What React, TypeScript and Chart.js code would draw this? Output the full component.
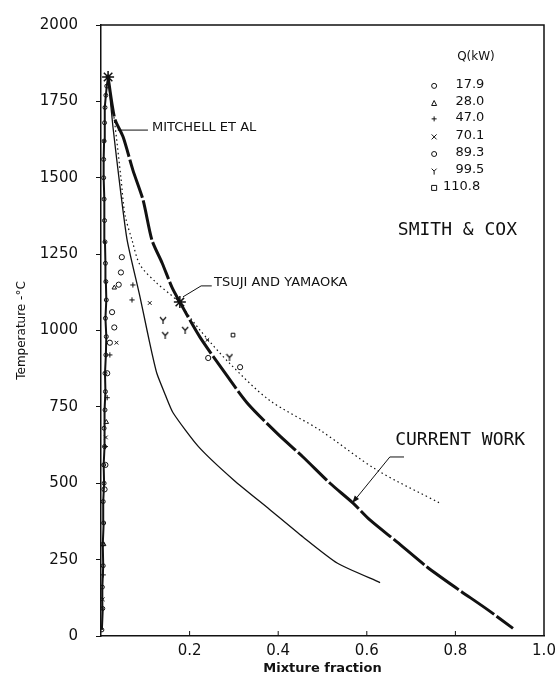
import React, { useEffect, useRef } from "react";
import { Chart, registerables } from "chart.js";

Chart.register(...registerables);

// ---------- data ----------
const xTickValues = [0, 0.2, 0.4, 0.6, 0.8, 1.0];
const yTickValues = [0, 250, 500, 750, 1000, 1250, 1500, 1750, 2000];

// heavy broken line (current work / Mitchell et al)
const currentX = [0.016, 0.025, 0.032, 0.05, 0.072, 0.095, 0.115, 0.138, 0.16, 0.178, 0.223, 0.275, 0.33, 0.4, 0.456, 0.517, 0.569, 0.607, 0.668, 0.736, 0.804, 0.871, 0.93];
const currentT = [1830, 1740, 1689, 1633, 1525, 1427, 1296, 1221, 1142, 1093, 979, 871, 763, 660, 586, 500, 435, 380, 308, 226, 155, 88, 25];

// thin solid line
const thinX = [0.016, 0.027, 0.043, 0.059, 0.088, 0.104, 0.115, 0.126, 0.145, 0.163, 0.22, 0.3, 0.38, 0.456, 0.533, 0.63];
const thinT = [1830, 1666, 1470, 1296, 1110, 1000, 926, 860, 790, 730, 620, 510, 415, 324, 239, 175];

// dotted line
const dottedX = [0.016, 0.03, 0.045, 0.054, 0.07, 0.088, 0.126, 0.17, 0.223, 0.29, 0.38, 0.494, 0.623, 0.765];
const dottedT = [1830, 1690, 1500, 1380, 1296, 1215, 1155, 1100, 1002, 893, 772, 674, 543, 435];

// rising branch near the axis
const risingX = [0.002, 0.004, 0.003, 0.005, 0.004, 0.006, 0.005, 0.007, 0.006, 0.008, 0.007, 0.009, 0.01, 0.009, 0.011, 0.012, 0.01, 0.012, 0.011, 0.01, 0.009, 0.008, 0.007, 0.006, 0.006, 0.007, 0.008, 0.009, 0.011, 0.013, 0.016];
const risingT = [20, 90, 160, 230, 300, 370, 440, 500, 560, 620, 680, 740, 800, 860, 920, 980, 1040, 1100, 1160, 1220, 1290, 1360, 1430, 1500, 1560, 1620, 1680, 1730, 1770, 1800, 1830];

// Smith & Cox measurements by heat release Q (kW)
const qLabels = ["17.9", "28.0", "47.0", "70.1", "89.3", "99.5", "110.8"];
const q179X = [0.008, 0.01, 0.014, 0.02, 0.025];
const q179T = [480, 560, 860, 960, 1060];
const q280X = [0.006, 0.012, 0.03];
const q280T = [300, 700, 1140];
const q470X = [0.005, 0.01, 0.014, 0.02, 0.07, 0.072];
const q470T = [200, 620, 780, 920, 1100, 1149];
const q701X = [0.004, 0.011, 0.035, 0.11, 0.24];
const q701T = [120, 650, 960, 1090, 969];
const q893X = [0.03, 0.04, 0.045, 0.047, 0.242, 0.314];
const q893T = [1010, 1150, 1190, 1240, 910, 880];
const q995X = [0.14, 0.145, 0.19, 0.29];
const q995T = [1034, 985, 1002, 913];
const q1108X = [0.298];
const q1108T = [985];

// characteristic points
const peakX = [0.016];
const peakT = [1830];
const tsujiX = [0.178];
const tsujiT = [1093];

const pts = (xs: number[], ys: number[]) => xs.map((x, i) => ({ x, y: ys[i] }));

function makeYMarker(): HTMLCanvasElement {
  const c = document.createElement("canvas");
  c.width = 8;
  c.height = 8;
  const g = c.getContext("2d")!;
  g.strokeStyle = "#111";
  g.lineWidth = 1.2;
  g.beginPath();
  g.moveTo(1, 1);
  g.lineTo(4, 4.5);
  g.lineTo(7, 1);
  g.moveTo(4, 4.5);
  g.lineTo(4, 8);
  g.stroke();
  return c;
}

function drawMarker(ctx: CanvasRenderingContext2D, kind: number, cx: number, cy: number) {
  const r = 2.5;
  ctx.beginPath();
  switch (kind) {
    case 0:
    case 4:
      ctx.arc(cx, cy, r, 0, Math.PI * 2);
      break;
    case 1:
      ctx.moveTo(cx, cy - r);
      ctx.lineTo(cx + r, cy + r);
      ctx.lineTo(cx - r, cy + r);
      ctx.closePath();
      break;
    case 2:
      ctx.moveTo(cx - r, cy);
      ctx.lineTo(cx + r, cy);
      ctx.moveTo(cx, cy - r);
      ctx.lineTo(cx, cy + r);
      break;
    case 3:
      ctx.moveTo(cx - r, cy - r);
      ctx.lineTo(cx + r, cy + r);
      ctx.moveTo(cx + r, cy - r);
      ctx.lineTo(cx - r, cy + r);
      break;
    case 5:
      ctx.moveTo(cx - r, cy - r);
      ctx.lineTo(cx, cy);
      ctx.lineTo(cx + r, cy - r);
      ctx.moveTo(cx, cy);
      ctx.lineTo(cx, cy + r + 1);
      break;
    case 6:
      ctx.rect(cx - r, cy - r, 2 * r, 2 * r);
      break;
  }
  ctx.stroke();
}

const overlay = {
  id: "overlay",
  afterDatasetsDraw(chart: any) {
    const { ctx, chartArea: a, scales } = chart;
    const px = (v: number) => scales.x.getPixelForValue(v);
    const py = (v: number) => scales.y.getPixelForValue(v);
    ctx.save();
    ctx.strokeStyle = "#111";
    ctx.fillStyle = "#111";
    // frame (top and right)
    ctx.lineWidth = 1.5;
    ctx.beginPath();
    ctx.moveTo(a.left, a.top);
    ctx.lineTo(a.right, a.top);
    ctx.lineTo(a.right, a.bottom);
    ctx.stroke();
    // inward x ticks
    ctx.lineWidth = 1;
    ctx.beginPath();
    xTickValues.forEach((v) => {
      if (v > 0 && v < 1) {
        ctx.moveTo(px(v), a.bottom);
        ctx.lineTo(px(v), a.bottom - 5);
      }
    });
    ctx.stroke();

    // annotation texts
    ctx.textBaseline = "middle";
    ctx.textAlign = "left";
    ctx.font = '13px "DejaVu Sans"';
    ctx.fillText("MITCHELL ET AL", px(0.115), py(1663));
    ctx.fillText("TSUJI AND YAMAOKA", px(0.255), py(1158));
    ctx.font = '18px "DejaVu Sans Mono"';
    ctx.fillText("SMITH & COX", px(0.67), py(1329));
    ctx.fillText("CURRENT WORK", px(0.664), py(642));

    // leader lines
    ctx.lineWidth = 1;
    ctx.beginPath();
    ctx.moveTo(px(0.038), py(1656));
    ctx.lineTo(px(0.106), py(1656));
    ctx.moveTo(px(0.185), py(1110));
    ctx.lineTo(px(0.226), py(1146));
    ctx.lineTo(px(0.25), py(1146));
    ctx.moveTo(px(0.684), py(586));
    ctx.lineTo(px(0.652), py(586));
    ctx.lineTo(px(0.57), py(440));
    ctx.stroke();
    // arrow head
    const ax = px(0.567), ay = py(435);
    const ang = Math.atan2(ay - py(586), ax - px(0.652));
    ctx.beginPath();
    ctx.moveTo(ax, ay);
    ctx.lineTo(ax - 8 * Math.cos(ang - 0.35), ay - 8 * Math.sin(ang - 0.35));
    ctx.lineTo(ax - 8 * Math.cos(ang + 0.35), ay - 8 * Math.sin(ang + 0.35));
    ctx.closePath();
    ctx.fill();

    // legend block Q(kW)
    ctx.font = '12px "DejaVu Sans"';
    ctx.fillText("Q(kW)", px(0.804), py(1895));
    const rowsT = [1804, 1748, 1696, 1637, 1581, 1525, 1470];
    ctx.font = '13px "DejaVu Sans"';
    qLabels.forEach((lab, i) => {
      drawMarker(ctx, i, px(0.752), py(rowsT[i]) + 1);
      ctx.fillText(lab, px(i === 6 ? 0.772 : 0.8), py(rowsT[i]));
    });
    ctx.restore();
  },
};

export default function App() {
  const ref = useRef<HTMLCanvasElement | null>(null);

  useEffect(() => {
    if (!ref.current) return;
    const yMark = makeYMarker();
    const scatter = (data: any[], style: any, extra: any = {}) => ({
      data,
      showLine: false,
      pointStyle: style,
      pointRadius: 2.6,
      pointBorderWidth: 1,
      pointBorderColor: "#111",
      pointBackgroundColor: "rgba(0,0,0,0)",
      ...extra,
    });
    const chart = new Chart(ref.current, {
      type: "scatter",
      data: {
        datasets: [
          {
            label: "Current work",
            data: pts(currentX, currentT),
            showLine: true,
            borderColor: "#111",
            borderWidth: 3,
            borderDash: [40, 3],
            pointRadius: 0,
            tension: 0.25,
          },
          {
            label: "Equilibrium",
            data: pts(thinX, thinT),
            showLine: true,
            borderColor: "#111",
            borderWidth: 1.3,
            pointRadius: 0,
            tension: 0.2,
          },
          {
            label: "Dotted",
            data: pts(dottedX, dottedT),
            showLine: true,
            borderColor: "#111",
            borderWidth: 1.2,
            borderDash: [1.5, 3],
            pointRadius: 0,
            tension: 0.3,
          },
          {
            label: "Rising",
            data: pts(risingX, risingT),
            showLine: true,
            borderColor: "#111",
            borderWidth: 2,
            pointRadius: 2,
            pointStyle: "circle",
            pointBorderColor: "#111",
            pointBackgroundColor: "rgba(0,0,0,0)",
            pointBorderWidth: 1,
          },
          scatter(pts(q179X, q179T), "circle"),
          scatter(pts(q280X, q280T), "triangle"),
          scatter(pts(q470X, q470T), "cross"),
          scatter(pts(q701X, q701T), "crossRot"),
          scatter(pts(q893X, q893T), "circle"),
          scatter(pts(q995X, q995T), yMark),
          scatter(pts(q1108X, q1108T), "rect"),
          scatter(pts(peakX, peakT), "star", { pointRadius: 6, pointBorderWidth: 1.5 }),
          scatter(pts(tsujiX, tsujiT), "star", { pointRadius: 6, pointBorderWidth: 1.5 }),
        ],
      },
      options: {
        animation: false,
        responsive: false,
        devicePixelRatio: 1,
        layout: { padding: { top: 25, right: 12, left: 0, bottom: 0 } },
        plugins: { legend: { display: false }, tooltip: { enabled: false } },
        scales: {
          x: {
            type: "linear",
            min: 0,
            max: 1,
            afterFit: (s: any) => {
              s.height = 42;
              s.paddingLeft = 0;
              s.paddingRight = 0;
            },
            ticks: {
              stepSize: 0.2,
              padding: 6,
              color: "#111",
              font: { family: "DejaVu Sans", size: 15 },
              callback: (v: any) => (Number(v) === 0 ? "" : Number(v).toFixed(1)),
            },
            grid: { display: true, drawOnChartArea: false, drawTicks: false },
            border: { display: true, color: "#111", width: 1.5 },
            title: {
              display: true,
              text: "Mixture fraction",
              color: "#111",
              font: { family: "DejaVu Sans", size: 13, weight: "bold" },
              padding: { top: 0, bottom: 2 },
            },
          },
          y: {
            type: "linear",
            min: 0,
            max: 2000,
            afterFit: (s: any) => {
              s.width = 101;
              s.paddingTop = 0;
              s.paddingBottom = 0;
            },
            afterBuildTicks: (s: any) => {
              s.ticks = yTickValues.map((v) => ({ value: v }));
            },
            ticks: {
              padding: 18,
              color: "#111",
              font: { family: "DejaVu Sans", size: 15 },
              callback: (v: any) => String(v),
            },
            grid: { display: true, drawOnChartArea: false, drawTicks: true, tickLength: 5, color: "#111" },
            border: { display: true, color: "#111", width: 1.5 },
            title: {
              display: true,
              text: "Temperature -°C",
              color: "#111",
              font: { family: "DejaVu Sans", size: 12 },
              padding: { top: 15, bottom: 0 },
            },
          },
        },
      },
      plugins: [overlay],
    });
    return () => chart.destroy();
  }, []);

  return (
    <div style={{ position: "absolute", left: 0, top: 0, width: 556, height: 678, background: "#fff" }}>
      <canvas ref={ref} width={556} height={678} style={{ display: "block" }} />
    </div>
  );
}
